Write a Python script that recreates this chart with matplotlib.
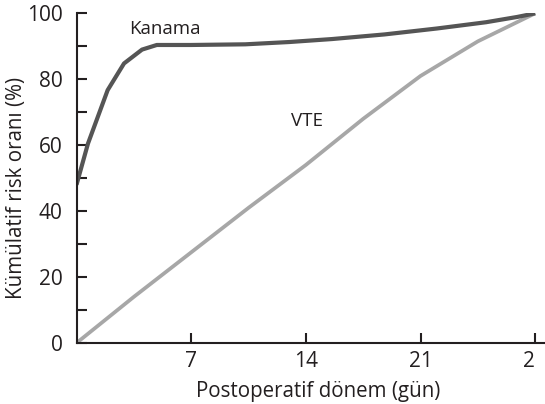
import matplotlib
matplotlib.use("Agg")
import matplotlib.pyplot as plt
from matplotlib.ticker import FuncFormatter

plt.rcParams['font.family'] = ['Open Sans', 'DejaVu Sans']

# cumulative risk (%) by postoperative day
kanama_days = [0, 0.7, 1.9, 2.9, 4.0, 4.9, 7.0, 10.3, 13.0, 15.6, 18.8, 22.0, 25.0, 26.9, 28.0]
kanama_risk = [48, 60.5, 76.7, 84.8, 89.0, 90.4, 90.4, 90.6, 91.3, 92.2, 93.6, 95.4, 97.3, 98.9, 100]

vte_days = [0, 3.5, 7, 10.5, 14, 17.5, 21, 24.5, 28]
vte_risk = [0, 14, 27.5, 41, 54, 68, 81, 91.5, 100]

xticks = [7, 14, 21, 28]
xtick_labels = ['7', '14', '21', '2']

fig = plt.figure(figsize=(5.45, 4.04), dpi=100)
ax = fig.add_axes([0.1404, 0.151, 0.8596, 0.816])

ax.plot(vte_days, vte_risk, color='#a7a7a7', lw=2.7, solid_capstyle='butt')
ax.plot(kanama_days, kanama_risk, color='#555555', lw=3.0, solid_capstyle='butt',
        solid_joinstyle='round')

ax.text(5.4, 93.8, 'Kanama', fontsize=13.5, color='#231f20', ha='center', va='baseline')
ax.text(14.07, 65.8, 'VTE', fontsize=13.5, color='#231f20', ha='center', va='baseline')

ax.set_xlim(0, 28.6)
ax.set_ylim(0, 100)

ax.set_yticks(range(0, 101, 10))
ax.yaxis.set_major_formatter(FuncFormatter(lambda v, p: str(int(v)) if v % 20 == 0 else ''))
ax.set_xticks(xticks)
ax.set_xticklabels(xtick_labels)
ax.get_xticklabels()[-1].set_horizontalalignment('right')

ax.tick_params(axis='both', direction='in', length=7, width=1.5, color='#231f20',
               labelsize=15, labelcolor='#231f20')
ax.tick_params(axis='y', pad=10)
ax.tick_params(axis='x', pad=6)

for side in ['top', 'right']:
    ax.spines[side].set_visible(False)
for side in ['left', 'bottom']:
    ax.spines[side].set_linewidth(1.5)
    ax.spines[side].set_color('#231f20')

ax.set_xlabel('Postoperatif dönem (gün)', fontsize=14.8, color='#231f20')
ax.set_ylabel('Kümülatif risk oranı (%)', fontsize=14.8, color='#231f20')
ax.xaxis.set_label_coords(0.5155, -0.115)
ax.yaxis.set_label_coords(-0.106, 0.47)

fig.savefig('out.png', dpi=100)
